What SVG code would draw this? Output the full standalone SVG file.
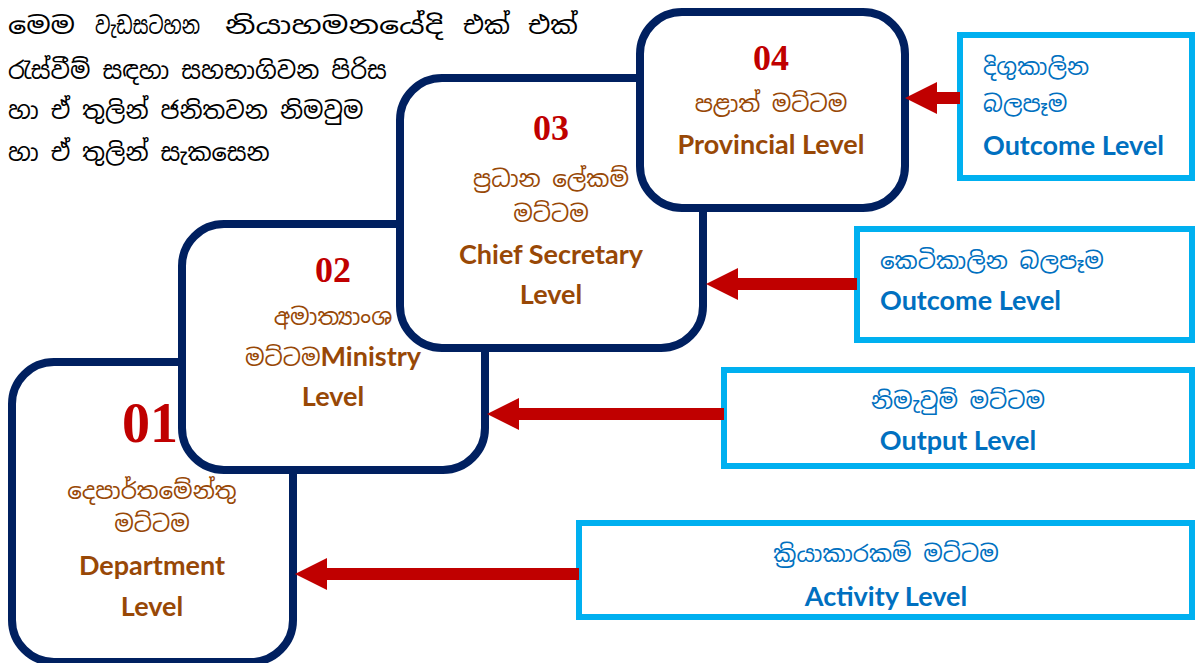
<svg xmlns="http://www.w3.org/2000/svg" width="1195" height="663" viewBox="0 0 1195 663">
<style>
.lvl{fill:#fff;stroke:#002060;stroke-width:8}
.res{fill:#fff;stroke:#00B0F0;stroke-width:6}
.num{font-family:"Liberation Serif","Times New Roman",serif;font-weight:bold;fill:#C00000;text-anchor:middle}
.si{font-family:"Noto Sans Sinhala","Noto Serif Sinhala","Iskoola Pota","Noto Sans",sans-serif;font-size:23px}
.en{font-family:Lato,"Liberation Sans",sans-serif;font-weight:bold;font-size:27px}
.br{fill:#984806;text-anchor:middle}
.bl{fill:#0070C0}
.mid{text-anchor:middle}
.intro{font-family:"Noto Sans Sinhala","Noto Serif Sinhala","Iskoola Pota","Noto Sans",sans-serif;font-size:24px;fill:#000}
.arr{stroke:#C00000;stroke-width:12;fill:none;marker-end:url(#head)}
</style>
<defs>
<marker id="head" markerUnits="userSpaceOnUse" markerWidth="32" markerHeight="32" viewBox="0 0 32 32" refX="4" refY="16" orient="auto">
<path d="M0,0 L32,16 L0,32 Z" fill="#C00000"/>
</marker>
</defs>
<rect width="1195" height="663" fill="#fff"/>
<g id="intro">
<text class="intro" x="8" y="34" textLength="67" lengthAdjust="spacingAndGlyphs">මෙම</text>
<text class="intro" x="95" y="34" textLength="105" lengthAdjust="spacingAndGlyphs">වැඩසටහන</text>
<text class="intro" x="225" y="34" textLength="218" lengthAdjust="spacingAndGlyphs">නියාහමනයේදි</text>
<text class="intro" x="463" y="34" textLength="47" lengthAdjust="spacingAndGlyphs">එක්</text>
<text class="intro" x="528" y="34" textLength="50" lengthAdjust="spacingAndGlyphs">එක්</text>
<text class="intro" x="8" y="79">රැස්වීම් සඳහා සහභාගිවන පිරිස</text>
<text class="intro" x="8" y="119">හා ඒ තුලින් ජනිතවන නිමවුම</text>
<text class="intro" x="8" y="161">හා ඒ තුලින් සැකසෙන</text>
</g>
<g id="level01">
<rect class="lvl" x="12" y="362" width="281" height="300" rx="42"/>
<text class="num" x="150" y="442" font-size="56">01</text>
<text class="si br" x="152" y="499">දෙපාර්තමේන්තු</text>
<text class="si br" x="152" y="532">මට්ටම</text>
<text class="en br" x="152" y="575">Department</text>
<text class="en br" x="152" y="616">Level</text>
</g>
<g id="level02">
<rect class="lvl" x="182" y="224" width="303" height="246" rx="42"/>
<text class="num" x="333" y="282" font-size="36">02</text>
<text class="si br" x="333" y="325">අමාත්‍යාංශ</text>
<text class="en br" x="333" y="366"><tspan class="si" font-weight="normal">මට්ටම</tspan>Ministry</text>
<text class="en br" x="333" y="406">Level</text>
</g>
<g id="level03">
<rect class="lvl" x="400" y="78" width="303" height="270" rx="42"/>
<text class="num" x="551" y="140" font-size="36">03</text>
<text class="si br" x="551" y="187">ප්‍රධාන ලේකම්</text>
<text class="si br" x="551" y="222">මට්ටම</text>
<text class="en br" x="551" y="264">Chief Secretary</text>
<text class="en br" x="551" y="304">Level</text>
</g>
<g id="level04">
<rect class="lvl" x="640" y="12" width="265" height="196" rx="42"/>
<text class="num" x="771" y="70" font-size="36">04</text>
<text class="si br" x="771" y="112">පළාත් මට්ටම</text>
<text class="en br" x="771" y="154">Provincial Level</text>
</g>
<g id="res-long">
<rect class="res" x="960" y="35" width="232" height="143"/>
<text class="si bl" x="983" y="75">දිගුකාලින</text>
<text class="si bl" x="983" y="112">බලපෑම</text>
<text class="en bl" x="983" y="155">Outcome Level</text>
</g>
<g id="res-short">
<rect class="res" x="857" y="229" width="335" height="111"/>
<text class="si bl" x="880" y="269">කෙටිකාලින බලපෑම</text>
<text class="en bl" x="880" y="310">Outcome Level</text>
</g>
<g id="res-output">
<rect class="res" x="724" y="370" width="468" height="96"/>
<text class="si bl mid" x="958" y="409">නිමැවුම් මට්ටම</text>
<text class="en bl mid" x="958" y="450">Output Level</text>
</g>
<g id="res-activity">
<rect class="res" x="579" y="523" width="613" height="94"/>
<text class="si bl mid" x="886" y="562">ක්‍රියාකාරකම් මට්ටම</text>
<text class="en bl mid" x="886" y="606">Activity Level</text>
</g>
<g id="connectors">
<line class="arr" x1="960" y1="98" x2="933" y2="98"/>
<line class="arr" x1="857" y1="284" x2="734" y2="284"/>
<line class="arr" x1="724" y1="414" x2="515" y2="414"/>
<line class="arr" x1="579" y1="574" x2="323" y2="574"/>
</g>
</svg>
